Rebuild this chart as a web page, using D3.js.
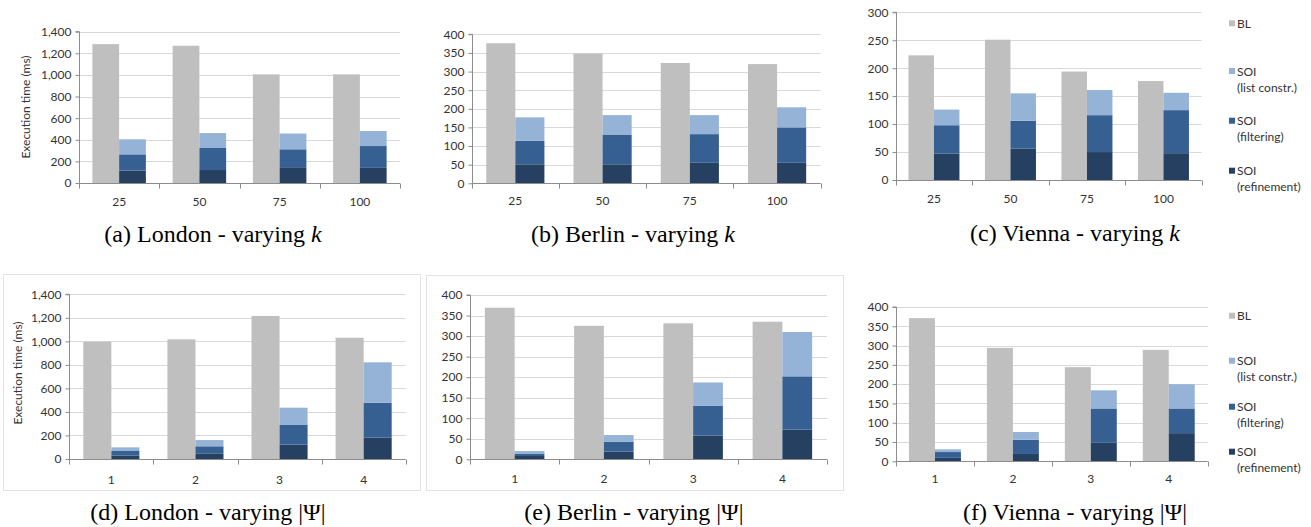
<!DOCTYPE html>
<html><head><meta charset="utf-8">
<script src="https://cdn.jsdelivr.net/npm/d3@7"></script>
<style>body{margin:0;background:#fff} svg{display:block}</style>
</head><body><svg id="c" width="1311" height="527"></svg>
<script>
// ---- data ----
const catsK = ["25", "50", "75", "100"];
const catsPsi = ["1", "2", "3", "4"];
const legendNames = [["BL"], ["SOI", "(list constr.)"], ["SOI", "(filtering)"], ["SOI", "(refinement)"]];
const yLabel = "Execution time (ms)";

const londonK_BL   = [1285, 1270, 1005, 1005];
const londonK_ref  = [115, 120, 146, 140];
const londonK_filt = [150, 204, 166, 202];
const londonK_list = [139, 138, 146, 139];

const berlinK_BL   = [376, 348, 323, 320];
const berlinK_ref  = [51, 51, 55, 55];
const berlinK_filt = [63, 80, 77, 95];
const berlinK_list = [63, 52, 51, 54];

const viennaK_BL   = [223, 251, 194, 177];
const viennaK_ref  = [47, 56, 50, 48];
const viennaK_filt = [51, 50, 66, 77];
const viennaK_list = [28, 49, 45, 31];

const londonP_BL   = [997, 1017, 1216, 1031];
const londonP_ref  = [30, 48, 122, 181];
const londonP_filt = [38, 60, 167, 298];
const londonP_list = [31, 53, 147, 343];

const berlinP_BL   = [369, 325, 331, 335];
const berlinP_ref  = [8, 19, 58, 72];
const berlinP_filt = [6, 24, 72, 130];
const berlinP_list = [6, 16, 57, 108];

const viennaP_BL   = [371, 294, 244, 289];
const viennaP_ref  = [9, 19, 48, 73];
const viennaP_filt = [15, 37, 89, 64];
const viennaP_list = [7, 20, 47, 63];

const ticksLondon = [0, 200, 400, 600, 800, 1000, 1200, 1400];
const ticks400 = [0, 50, 100, 150, 200, 250, 300, 350, 400];
const ticks300 = [0, 50, 100, 150, 200, 250, 300];

// ---- styles ----
const colBL = "#BFBFBF", colList = "#95B3D7", colFilt = "#376092", colRef = "#254061";
const legendColors = [colBL, colList, colFilt, colRef];
const tickFont = "Lato, 'Open Sans', sans-serif";
const capFont = "'Liberation Serif', 'Times New Roman', serif";
const fs = 12;

const panels = [
  {cats: catsK, bl: londonK_BL, ref: londonK_ref, filt: londonK_filt, list: londonK_list, ticks: ticksLondon,
   x0: 79, x1: 400, yT: 31.7, y0: 183, tickY: 201, ylab: [25, 107], cap: "(a) London - varying ", capV: "k", capX: 213, capY: 242},
  {cats: catsK, bl: berlinK_BL, ref: berlinK_ref, filt: berlinK_filt, list: berlinK_list, ticks: ticks400,
   x0: 471.7, x1: 820.7, yT: 34.3, y0: 183.3, tickY: 201, cap: "(b) Berlin - varying ", capV: "k", capX: 633, capY: 242},
  {cats: catsK, bl: viennaK_BL, ref: viennaK_ref, filt: viennaK_filt, list: viennaK_list, ticks: ticks300,
   x0: 895.7, x1: 1201.7, yT: 12.3, y0: 180, tickY: 198, cap: "(c) Vienna - varying ", capV: "k", capX: 1075, capY: 241,
   legend: {x: 1229, ys: [23.3, 71, 120.7, 170.7], lh: 16}},
  {cats: catsPsi, bl: londonP_BL, ref: londonP_ref, filt: londonP_filt, list: londonP_list, ticks: ticksLondon,
   x0: 69.3, x1: 405.7, yT: 294.3, y0: 459, tickY: 479, ylab: [17, 373], cap: "(d) London - varying ", capPsi: true, capX: 208, capY: 520,
   box: [3, 274, 420, 490]},
  {cats: catsPsi, bl: berlinP_BL, ref: berlinP_ref, filt: berlinP_filt, list: berlinP_list, ticks: ticks400,
   x0: 470, x1: 827, yT: 295, y0: 459.3, tickY: 479, cap: "(e) Berlin - varying ", capPsi: true, capX: 634, capY: 520,
   box: [426, 275, 843, 490]},
  {cats: catsPsi, bl: viennaP_BL, ref: viennaP_ref, filt: viennaP_filt, list: viennaP_list, ticks: ticks400,
   x0: 896, x1: 1207.7, yT: 307, y0: 461.3, tickY: 479, cap: "(f) Vienna - varying ", capPsi: true, capX: 1075, capY: 520,
   legend: {x: 1229, ys: [315.7, 360.7, 406.7, 451.7], lh: 15.8}}
];

const svg = d3.select("#c");

panels.forEach(p => {
  const g = svg.append("g");
  if (p.box) {
    g.append("rect").attr("x", p.box[0] + 0.5).attr("y", p.box[1] + 0.5)
      .attr("width", p.box[2] - p.box[0]).attr("height", p.box[3] - p.box[1])
      .attr("fill", "none").attr("stroke", "#E3E3E3").attr("stroke-width", 1);
  }
  const ymax = p.ticks[p.ticks.length - 1];
  const y = d3.scaleLinear().domain([0, ymax]).range([p.y0, p.yT]);
  const x = d3.scaleBand().domain(p.cats).range([p.x0, p.x1]).padding(0);
  const sub = d3.scaleBand().domain(["BL", "SOI"]).range([0, x.bandwidth()]).paddingInner(0).paddingOuter(0.5);

  // gridlines
  g.selectAll(".grid").data(p.ticks.filter(t => t > 0)).join("line")
    .attr("x1", p.x0).attr("x2", p.x1)
    .attr("y1", d => Math.round(y(d)) + 0.5).attr("y2", d => Math.round(y(d)) + 0.5)
    .attr("stroke", "#D9D9D9").attr("stroke-width", 1);

  // y axis
  const ya = g.append("g").attr("transform", `translate(${Math.round(p.x0) + 0.5},0)`)
    .call(d3.axisLeft(y).tickValues(p.ticks).tickSize(4).tickPadding(4).tickFormat(d3.format(",")));
  ya.selectAll("path,line").attr("stroke", "#8C8C8C");
  ya.selectAll("text").attr("font-family", tickFont).attr("font-size", fs).attr("fill", "#333");
  ya.select(".domain").attr("d", `M-4,${p.yT}H0V${p.y0}`).attr("stroke", "#8C8C8C");

  // bars: BL
  g.selectAll(".bl").data(p.cats).join("rect")
    .attr("x", (c) => x(c) + sub("BL")).attr("width", sub.bandwidth())
    .attr("y", (c, i) => y(p.bl[i])).attr("height", (c, i) => y(0) - y(p.bl[i]))
    .attr("fill", colBL);

  // stacked SOI
  const rows = p.cats.map((c, i) => ({cat: c, ref: p.ref[i], filt: p.filt[i], list: p.list[i]}));
  const stack = d3.stack().keys(["ref", "filt", "list"])(rows);
  const cols = {ref: colRef, filt: colFilt, list: colList};
  stack.forEach(layer => {
    g.selectAll(null).data(layer).join("rect")
      .attr("x", d => x(d.data.cat) + sub("SOI")).attr("width", sub.bandwidth())
      .attr("y", d => y(d[1])).attr("height", d => y(d[0]) - y(d[1]))
      .attr("fill", cols[layer.key]);
  });

  // x axis
  const xa = g.append("g").attr("transform", `translate(0,${Math.round(p.y0) + 0.5})`)
    .call(d3.axisBottom(x).tickSize(0).tickPadding(p.tickY - p.y0 - 4.5));
  xa.select(".domain").attr("stroke", "#8C8C8C").attr("d", `M${p.x0},0H${p.x1}`);
  xa.selectAll("text").attr("font-family", tickFont).attr("font-size", fs).attr("fill", "#333");
  const bounds = p.cats.map(c => x(c)).concat([p.x1]);
  xa.selectAll(".bt").data(bounds).join("line")
    .attr("x1", d => Math.round(d) + 0.5).attr("x2", d => Math.round(d) + 0.5)
    .attr("y1", 0).attr("y2", 5).attr("stroke", "#8C8C8C");

  // y label
  if (p.ylab) {
    g.append("text").attr("transform", `translate(${p.ylab[0]},${p.ylab[1]}) rotate(-90)`)
      .attr("text-anchor", "middle").attr("dominant-baseline", "central")
      .attr("font-family", tickFont).attr("font-size", fs).attr("fill", "#333").text(yLabel);
  }

  // caption
  const t = g.append("text").attr("x", p.capX).attr("y", p.capY).attr("text-anchor", "middle")
    .attr("font-family", capFont).attr("font-size", 24).attr("fill", "#000");
  t.append("tspan").text(p.cap);
  if (p.capV) t.append("tspan").attr("font-style", "italic").text(p.capV);
  if (p.capPsi) t.append("tspan").text("|Ψ|");

  // legend
  if (p.legend) {
    legendNames.forEach((lines, i) => {
      const ly = p.legend.ys[i];
      g.append("rect").attr("x", p.legend.x).attr("y", ly - 3).attr("width", 6).attr("height", 6)
        .attr("fill", legendColors[i]);
      lines.forEach((ln, j) => {
        g.append("text").attr("x", p.legend.x + 8).attr("y", ly + j * p.legend.lh)
          .attr("dominant-baseline", "central").attr("font-family", tickFont).attr("font-size", fs)
          .attr("fill", "#333").text(ln);
      });
    });
  }
});
</script>
</body></html>
